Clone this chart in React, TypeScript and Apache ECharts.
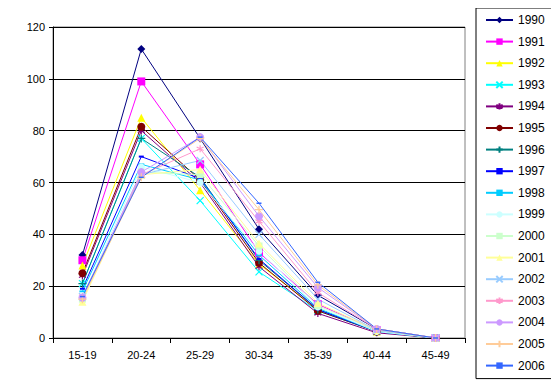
import React, { useEffect, useRef } from "react";
import * as echarts from "echarts";

const categories = ["15-19", "20-24", "25-29", "30-34", "35-39", "40-44", "45-49"];
const yTicks = [0, 20, 40, 60, 80, 100, 120];

const s1990 = [32, 111.5, 77, 42, 16.5, 3.5, 0];
const s1991 = [30, 99, 67, 33, 13, 3, 0];
const s1992 = [28, 85, 57, 28.5, 11, 2.5, 0];
const s1993 = [21, 77, 53, 25.5, 10.5, 2.5, 0];
const s1994 = [24, 80, 60, 27.5, 9.5, 2, 0];
const s1995 = [25, 81.5, 61, 29, 10.5, 2.5, 0];
const s1996 = [21, 77, 62, 30, 11, 2.5, 0];
const s1997 = [19, 70, 61.5, 30.5, 11, 2.5, 0];
const s1998 = [18, 67, 61, 32, 11.5, 2.5, 0];
const s1999 = [16, 66, 60, 33.5, 12, 2.5, 0];
const s2000 = [15, 64, 63, 35.5, 12.5, 3, 0];
const s2001 = [14, 63, 65, 36.5, 13.5, 3, 0];
const s2002 = [16, 63, 68.5, 40, 15, 3, 0];
const s2003 = [16, 63, 73, 45, 17.5, 3.5, 0];
const s2004 = [15.5, 64, 77.5, 47, 19.5, 3.5, 0];
const s2005 = [15, 62, 77, 49.5, 20.5, 3.5, 0];
const s2006 = [16, 62, 77.5, 52, 21.5, 3.5, 0];

const seriesNames = ["1990", "1991", "1992", "1993", "1994", "1995", "1996", "1997", "1998", "1999", "2000", "2001", "2002", "2003", "2004", "2005", "2006"];
const seriesData = [s1990, s1991, s1992, s1993, s1994, s1995, s1996, s1997, s1998, s1999, s2000, s2001, s2002, s2003, s2004, s2005, s2006];

const X = "path://M0,0L10,10M10,0L0,10";
const STAR = "path://M5,0L5,10M0,2.5L10,7.5M0,7.5L10,2.5";
const PLUS = "path://M5,0L5,10M0,5L10,5";
const DASH = "path://M0,0L10,0L10,4L0,4Z";
const DASHTHIN = "path://M0,0L10,0L10,3L0,3Z";

const styles: { color: string; symbol: string; size: number; stroke?: boolean; keep?: boolean }[] = [
  { color: "#000080", symbol: "diamond", size: 8 },
  { color: "#FF00FF", symbol: "rect", size: 8 },
  { color: "#FFFF00", symbol: "triangle", size: 8 },
  { color: "#00FFFF", symbol: X, size: 7, stroke: true },
  { color: "#800080", symbol: STAR, size: 7, stroke: true },
  { color: "#800000", symbol: "circle", size: 8 },
  { color: "#008080", symbol: PLUS, size: 8, stroke: true },
  { color: "#0000FF", symbol: DASH, size: 5, keep: true },
  { color: "#00CCFF", symbol: DASHTHIN, size: 6, keep: true },
  { color: "#CCFFFF", symbol: "circle", size: 7 },
  { color: "#CCFFCC", symbol: "rect", size: 7 },
  { color: "#FFFF99", symbol: "triangle", size: 8 },
  { color: "#99CCFF", symbol: X, size: 7, stroke: true },
  { color: "#FF99CC", symbol: STAR, size: 7, stroke: true },
  { color: "#CC99FF", symbol: "circle", size: 8 },
  { color: "#FFCC99", symbol: PLUS, size: 8, stroke: true },
  { color: "#3366FF", symbol: DASHTHIN, size: 5, keep: true },
];

export default function App() {
  const ref = useRef<HTMLDivElement>(null);
  useEffect(() => {
    if (!ref.current) return;
    const chart = echarts.init(ref.current, undefined, { renderer: "svg" });
    const font = "Liberation Sans, Arial, sans-serif";
    chart.setOption({
      animation: false,
      backgroundColor: "#ffffff",
      textStyle: { fontFamily: font },
      grid: {
        left: 53,
        right: 94,
        top: 27,
        bottom: 49,
        show: true,
        borderColor: "#808080",
        borderWidth: 1,
        backgroundColor: "#ffffff",
      },
      legend: {
        orient: "vertical",
        left: 476,
        top: 8,
        padding: [5, 8, 6, 9],
        itemWidth: 27,
        itemHeight: 8,
        itemGap: 7.6,
        borderColor: "#000",
        borderWidth: 1,
        textStyle: { fontSize: 12, lineHeight: 14, color: "#000", fontFamily: font },
        data: seriesNames,
      },
      xAxis: {
        type: "category",
        data: categories,
        boundaryGap: true,
        axisLine: { lineStyle: { color: "#000", width: 1 } },
        axisTick: { show: true, alignWithLabel: false, length: 5, lineStyle: { color: "#000" } },
        axisLabel: { fontSize: 11, color: "#000", margin: 11, fontFamily: font },
        splitLine: { show: false },
      },
      yAxis: {
        type: "value",
        min: yTicks[0],
        max: yTicks[yTicks.length - 1],
        interval: 20,
        axisLine: { show: true, lineStyle: { color: "#000", width: 1 } },
        axisTick: { show: true, length: 4, lineStyle: { color: "#000" } },
        axisLabel: { fontSize: 11, color: "#000", margin: 8, fontFamily: font },
        splitLine: { show: true, lineStyle: { color: "#000", width: 1 } },
      },
      series: seriesData.map((d, i) => {
        const st = styles[i];
        return {
          name: seriesNames[i],
          type: "line",
          data: d,
          symbol: st.symbol,
          symbolSize: st.size,
          symbolKeepAspect: !!st.keep,
          showAllSymbol: true,
          lineStyle: { color: st.color, width: 1 },
          itemStyle: st.stroke
            ? { color: st.color, borderColor: st.color, borderWidth: 1.2 }
            : { color: st.color, borderWidth: 0 },
          emphasis: { disabled: true },
        };
      }),
    });
    return () => chart.dispose();
  }, []);
  return <div ref={ref} style={{ width: 559, height: 387, marginLeft: -8, marginTop: -8 }} />;
}
